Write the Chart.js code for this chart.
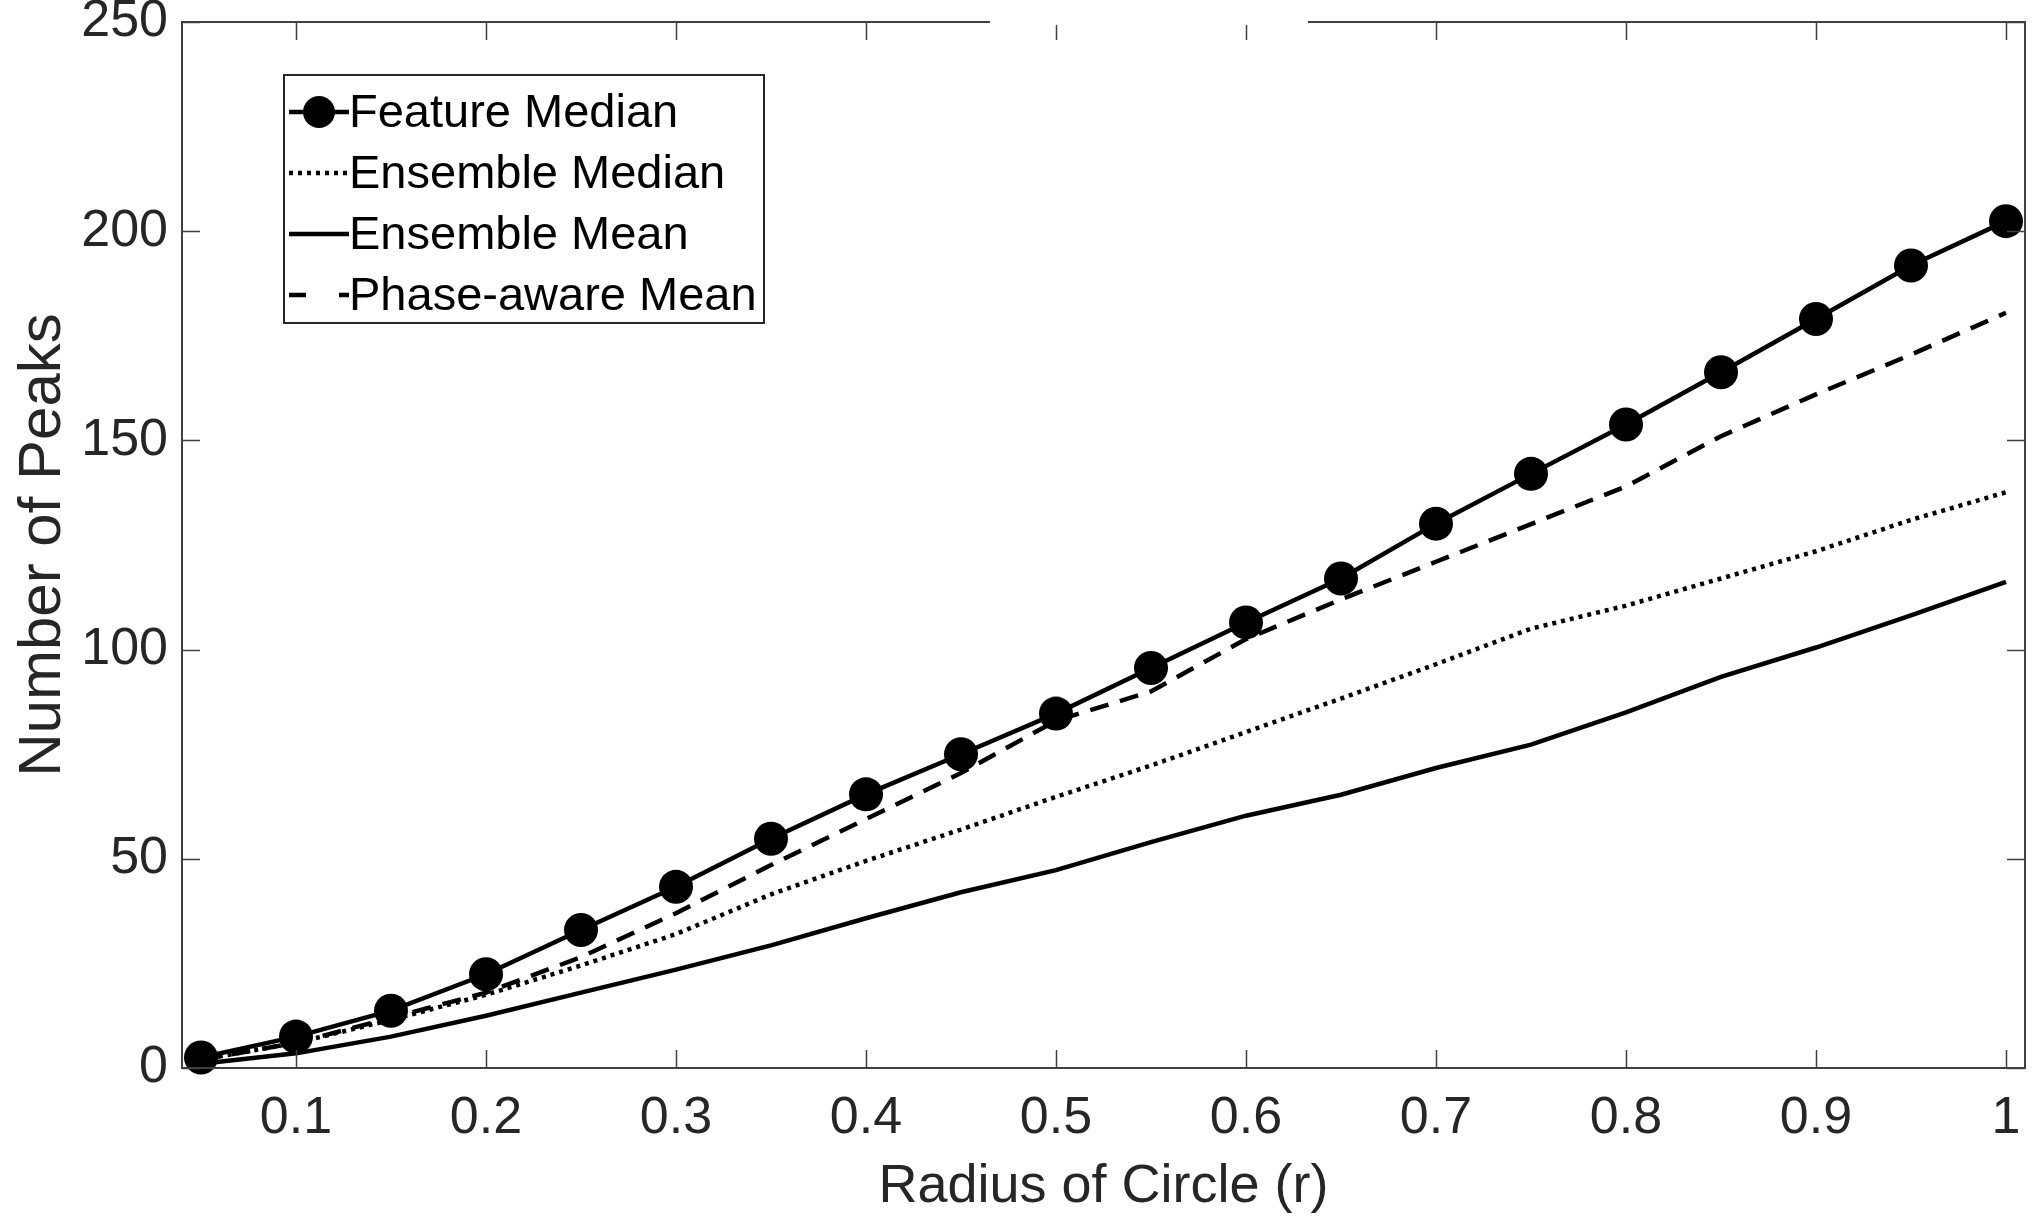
<!DOCTYPE html>
<html>
<head>
<meta charset="utf-8">
<script src="https://cdn.jsdelivr.net/npm/chart.js@4.4.1/dist/chart.umd.min.js"></script>
<style>
  html, body { margin: 0; padding: 0; background: #fff; }
  canvas { display: block; }
</style>
</head>
<body>
<canvas id="grafico-picos" width="2042" height="1218"></canvas>
<script>
// Datos
const radios = [0.05, 0.10, 0.15, 0.20, 0.25, 0.30, 0.35, 0.40, 0.45, 0.50,
                0.55, 0.60, 0.65, 0.70, 0.75, 0.80, 0.85, 0.90, 0.95, 1.00];
const featureMedian  = [2.5, 7.5, 13.7, 22.4, 33, 43.3, 54.8, 65.4, 75, 84.7,
                        95.6, 106.5, 117, 130.1, 142, 153.8, 166.3, 179, 191.8, 202.4];
const ensembleMedian = [2, 6, 11.5, 17.5, 24.5, 32, 41.5, 49.5, 57, 64.8,
                        72.3, 80.3, 88.3, 96.5, 105, 110.5, 117, 123.5, 131, 137.6];
const ensembleMean   = [1, 3.5, 7.5, 12.5, 18, 23.5, 29.3, 35.8, 42, 47.3,
                        54, 60.3, 65.3, 71.7, 77.3, 85, 93.5, 100.5, 108.2, 116.2];
const phaseAwareMean = [2, 6, 12, 18, 26.5, 37, 48.5, 59.5, 70.5, 83,
                        90, 102.5, 112, 121, 130, 139, 151, 161, 170.5, 180.5];

const xTicks = [0.1, 0.2, 0.3, 0.4, 0.5, 0.6, 0.7, 0.8, 0.9, 1];
const yTicks = [0, 50, 100, 150, 200, 250];

const GRIS = '#262626';
const fuenteTicks = { family: "'Liberation Sans', Arial, sans-serif", size: 52 };

function puntos(valores) {
    return radios.map((r, i) => ({ x: r, y: valores[i] }));
}

// Caja de ejes estilo MATLAB con marcas hacia dentro, leyenda y hueco del título
const marcoEjes = {
    id: 'marcoEjes',
    afterDatasetsDraw(chart) {
        const { ctx, chartArea: a, scales: { x, y } } = chart;
        ctx.save();
        ctx.strokeStyle = '#404040';
        ctx.lineWidth = 2;
        ctx.strokeRect(a.left, a.top, a.right - a.left, a.bottom - a.top);
        ctx.beginPath();
        xTicks.forEach(v => {
            const px = Math.round(x.getPixelForValue(v)) + 0.5;
            ctx.moveTo(px, a.bottom); ctx.lineTo(px, a.bottom - 18);
            ctx.moveTo(px, a.top); ctx.lineTo(px, a.top + 18);
        });
        yTicks.forEach(v => {
            const py = Math.round(y.getPixelForValue(v)) + 0.5;
            ctx.moveTo(a.left, py); ctx.lineTo(a.left + 18, py);
            ctx.moveTo(a.right, py); ctx.lineTo(a.right - 18, py);
        });
        ctx.lineWidth = 1.5;
        ctx.stroke();
        // el título queda tapado por un recuadro blanco
        ctx.fillStyle = '#fff';
        ctx.fillRect(990, 0, 318, 25);
        ctx.restore();
    },
    afterDraw(chart) {
        const { ctx } = chart;
        const datasets = chart.data.datasets;
        const bx = 284, by = 75, bw = 480, bh = 248;
        ctx.save();
        ctx.fillStyle = '#fff';
        ctx.fillRect(bx, by, bw, bh);
        ctx.strokeStyle = GRIS;
        ctx.lineWidth = 2;
        ctx.strokeRect(bx, by, bw, bh);

        datasets.forEach((ds, i) => {
            const cy = by + 37 + i * 61;
            ctx.strokeStyle = '#000';
            ctx.lineWidth = ds.borderWidth;
            ctx.setLineDash(ds.legendDash || ds.borderDash || []);
            ctx.beginPath();
            ctx.moveTo(289, cy);
            ctx.lineTo(349, cy);
            ctx.stroke();
            ctx.setLineDash([]);
            if (ds.pointRadius > 0) {
                ctx.fillStyle = '#000';
                ctx.beginPath();
                ctx.arc(319, cy, 16, 0, Math.PI * 2);
                ctx.fill();
            }
            ctx.fillStyle = '#000';
            ctx.font = "47px 'Liberation Sans', Arial, sans-serif";
            ctx.textBaseline = 'middle';
            ctx.textAlign = 'left';
            ctx.fillText(ds.label, 349, cy + 2);
        });
        ctx.restore();
    }
};

const ctx = document.getElementById('grafico-picos').getContext('2d');
new Chart(ctx, {
    type: 'line',
    data: {
        datasets: [{
            label: 'Feature Median',
            data: puntos(featureMedian),
            borderColor: '#000',
            borderWidth: 4.5,
            pointRadius: 17,
            pointBackgroundColor: '#000',
            pointBorderWidth: 0,
            tension: 0
        }, {
            label: 'Ensemble Median',
            data: puntos(ensembleMedian),
            borderColor: '#000',
            borderWidth: 4.5,
            borderDash: [4, 5],
            pointRadius: 0,
            tension: 0
        }, {
            label: 'Ensemble Mean',
            data: puntos(ensembleMean),
            borderColor: '#000',
            borderWidth: 4.5,
            pointRadius: 0,
            tension: 0
        }, {
            label: 'Phase-aware Mean',
            data: puntos(phaseAwareMean),
            borderColor: '#000',
            borderWidth: 4.5,
            borderDash: [19, 12],
            legendDash: [17, 33],
            pointRadius: 0,
            tension: 0
        }]
    },
    options: {
        responsive: false,
        animation: false,
        devicePixelRatio: 1,
        clip: false,
        layout: { padding: { top: 22, right: 4, left: 0, bottom: 0 } },
        plugins: {
            legend: { display: false },
            tooltip: { enabled: false }
        },
        scales: {
            x: {
                type: 'linear',
                min: 0.04,
                max: 1.01,
                afterBuildTicks: s => { s.ticks = xTicks.map(v => ({ value: v })); },
                afterFit: s => { s.height = 150; s.paddingLeft = 0; s.paddingRight = 0; },
                grid: { display: false, drawTicks: false },
                border: { display: false },
                ticks: {
                    color: GRIS,
                    font: fuenteTicks,
                    padding: 19,
                    maxRotation: 0,
                    autoSkip: false,
                    callback: v => String(v)
                },
                title: {
                    display: true,
                    text: 'Radius of Circle (r)',
                    color: GRIS,
                    font: { family: "'Liberation Sans', Arial, sans-serif", size: 54, lineHeight: 1 },
                    padding: { top: 0, bottom: 4 }
                }
            },
            y: {
                type: 'linear',
                min: 0,
                max: 250,
                afterBuildTicks: s => { s.ticks = yTicks.map(v => ({ value: v })); },
                afterFit: s => { s.width = 182; s.paddingTop = 0; s.paddingBottom = 0; },
                grid: { display: false, drawTicks: false },
                border: { display: false },
                ticks: {
                    color: GRIS,
                    font: fuenteTicks,
                    padding: 14,
                    autoSkip: false,
                    callback: v => String(v)
                },
                title: {
                    display: true,
                    text: 'Number of Peaks',
                    color: GRIS,
                    font: { family: "'Liberation Sans', Arial, sans-serif", size: 60, lineHeight: 1 },
                    padding: { top: 13, bottom: 0 }
                }
            }
        }
    },
    plugins: [marcoEjes]
});
</script>
</body>
</html>
